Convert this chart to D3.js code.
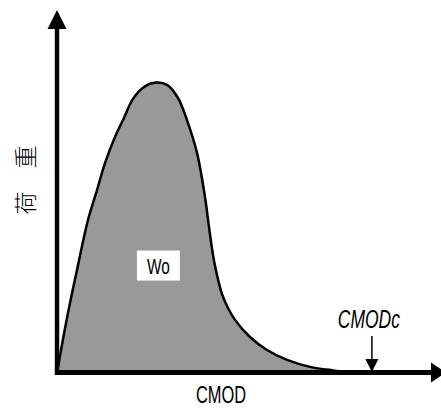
<!DOCTYPE html>
<html>
<head>
<meta charset="utf-8">
<script src="https://cdn.jsdelivr.net/npm/d3@7"></script>
<style>
  body { margin: 0; background: #fff; }
  svg { display: block; }
</style>
</head>
<body>
<div id="chart"></div>
<script>
// load - CMOD curve (CMOD in arbitrary units, load normalised to the peak)
const cmod = [0, 0.26, 0.521, 0.807, 1.042, 1.25, 1.51, 1.719, 1.979, 2.266, 2.578,
  2.865, 3.151, 3.385, 3.646, 3.854, 3.958, 4.063, 4.167, 4.297, 4.453, 4.635,
  5.026, 5.469, 5.99, 6.589, 7.188, 7.682, 8.203];
const load = [0, 0.189, 0.355, 0.527, 0.63, 0.723, 0.813, 0.871, 0.944, 0.985, 1.0,
  0.992, 0.947, 0.871, 0.758, 0.606, 0.503, 0.406, 0.337, 0.272, 0.224, 0.183,
  0.124, 0.079, 0.045, 0.021, 0.009, 0.002, 0];

// labels
const xLabel = "CMOD";
const yLabel = "荷　重";
const areaLabel = "Wo";
const endLabel = "CMODc";
const cmodC = 8.2;          // where the curve reaches zero
const woAt = [2.64, 0.37];  // centre of the Wo box in data units

const width = 441, height = 408;

const svg = d3.select("#chart").append("svg")
  .attr("width", width)
  .attr("height", height);

// scales
const x = d3.scaleLinear().domain([0, 10]).range([57, 441]);
const y = d3.scaleLinear().domain([0, 1.25]).range([373, 10]);

const pts = cmod.map((c, i) => [c, load[i]]);
const smooth = d3.curveCatmullRom.alpha(0.5);

// filled area under the curve
const area = d3.area()
  .x(d => x(d[0]))
  .y0(y(0))
  .y1(d => y(d[1]))
  .curve(smooth);

svg.append("path")
  .datum(pts)
  .attr("d", area)
  .attr("fill", "#999999");

const line = d3.line()
  .x(d => x(d[0]))
  .y(d => y(d[1]))
  .curve(smooth);

svg.append("path")
  .datum(pts)
  .attr("d", line)
  .attr("fill", "none")
  .attr("stroke", "#000")
  .attr("stroke-width", 2.5);

// axes (drawn as arrows, no ticks)
const x0 = x(0), yb = y(0) - 0.5;
svg.append("line")
  .attr("x1", x0).attr("x2", x0)
  .attr("y1", yb + 2.5).attr("y2", 28)
  .attr("stroke", "#000").attr("stroke-width", 4.5);
svg.append("path")
  .attr("d", `M${x0 - 9.5},29 L${x0 + 9.5},29 L${x0},10 Z`)
  .attr("fill", "#000");

svg.append("line")
  .attr("x1", x0 - 2).attr("x2", 432)
  .attr("y1", yb).attr("y2", yb)
  .attr("stroke", "#000").attr("stroke-width", 5);
svg.append("path")
  .attr("d", `M431,${yb - 10} L431,${yb + 10} L446,${yb} Z`)
  .attr("fill", "#000");

// CMODc marker
const xc = x(cmodC);
svg.append("line")
  .attr("x1", xc).attr("x2", xc)
  .attr("y1", 336).attr("y2", 360)
  .attr("stroke", "#000").attr("stroke-width", 1.5);
svg.append("path")
  .attr("d", `M${xc - 6.5},359 L${xc + 6.5},359 L${xc},372 Z`)
  .attr("fill", "#000");

// condensed sans text helper
function label(txt, cx, base, size, italic) {
  svg.append("text")
    .attr("transform", `translate(${cx},${base}) scale(0.7,1)`)
    .attr("text-anchor", "middle")
    .attr("font-family", "'Liberation Sans', Arial, sans-serif")
    .attr("font-size", size)
    .attr("font-style", italic ? "italic" : "normal")
    .attr("fill", "#000")
    .text(txt);
}

// Wo box
const wx = x(woAt[0]), wy = y(woAt[1]);
svg.append("rect")
  .attr("x", wx - 21.5).attr("y", wy - 15)
  .attr("width", 43).attr("height", 30)
  .attr("fill", "#fff");
label(areaLabel, wx, wy + 8, 22, false);

label(endLabel, xc - 3, 328, 25, true);
label(xLabel, 221, 403, 23.5, false);

// y label, rotated
svg.append("text")
  .attr("transform", "translate(34,180) rotate(-90)")
  .attr("text-anchor", "middle")
  .attr("font-family", "'Noto Sans CJK JP', sans-serif")
  .attr("font-size", 23)
  .attr("font-weight", 300)
  .attr("fill", "#000")
  .text(yLabel);
</script>
</body>
</html>
